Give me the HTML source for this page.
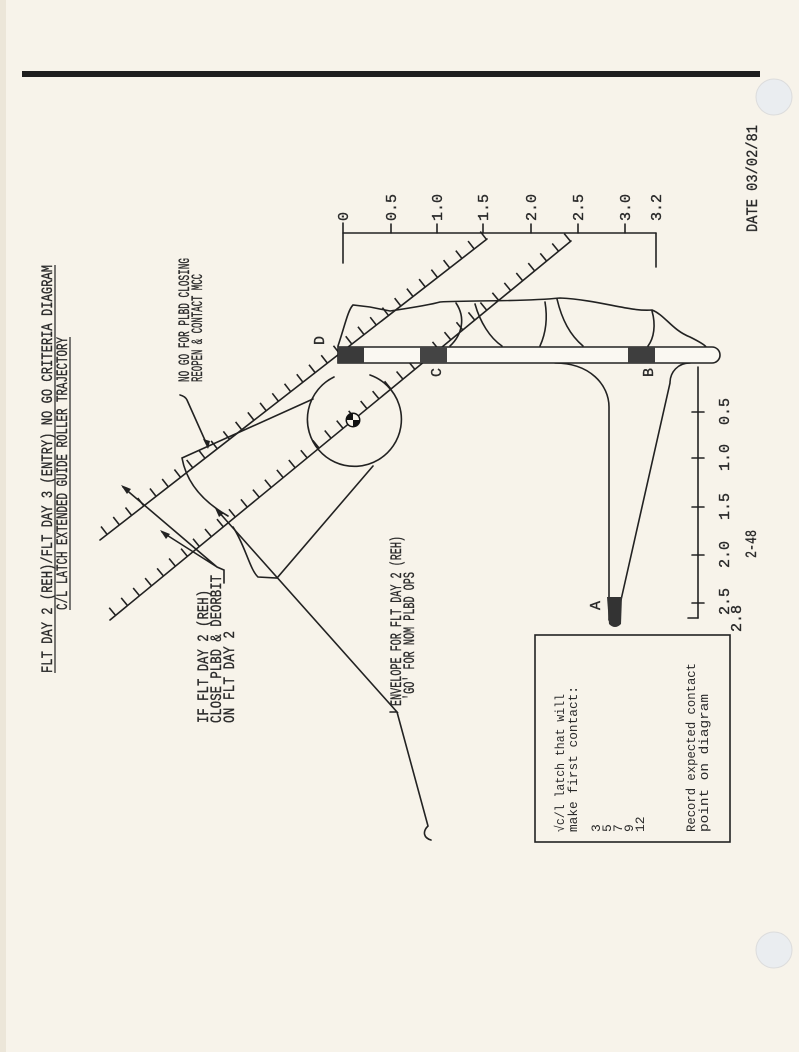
<!DOCTYPE html>
<html><head><meta charset="utf-8"><style>
html,body{margin:0;padding:0;background:#f7f3ea;}
svg{display:block;}
text{font-family:"Liberation Mono","DejaVu Sans Mono",monospace;fill:#2a2a2a;}
.b{stroke:#2a2a2a;stroke-width:0.35;}
</style></head><body>
<svg width="799" height="1052" viewBox="0 0 799 1052" xmlns="http://www.w3.org/2000/svg">
<rect width="799" height="1052" fill="#f7f3ea"/>
<rect x="0" y="0" width="6" height="1052" fill="#ece6d9"/>
<rect x="22" y="71" width="738" height="6" fill="#1e1e1e"/>
<circle cx="774" cy="97" r="18" fill="#eaedf0" stroke="#dcdcdc"/>
<circle cx="774" cy="950" r="18" fill="#eaedf0" stroke="#dcdcdc"/>

<g stroke="#222" stroke-width="1.6" fill="none" stroke-linecap="round">
<line x1="343" y1="233" x2="656" y2="233"/>
<line x1="343" y1="223" x2="343" y2="263"/>
<line x1="656" y1="233" x2="656" y2="267"/>
<line x1="391" y1="224" x2="391" y2="233"/><line x1="437" y1="224" x2="437" y2="233"/>
<line x1="483" y1="224" x2="483" y2="233"/><line x1="531" y1="224" x2="531" y2="233"/>
<line x1="578" y1="224" x2="578" y2="233"/><line x1="625" y1="224" x2="625" y2="233"/>
<line x1="487" y1="239" x2="100" y2="540"/>
<line x1="571" y1="241" x2="110" y2="620"/>
<line x1="698" y1="367" x2="698" y2="618"/>
<line x1="688" y1="618" x2="698" y2="618"/>
<line x1="692" y1="412" x2="704" y2="412"/><line x1="692" y1="458" x2="704" y2="458"/>
<line x1="692" y1="507" x2="704" y2="507"/><line x1="692" y1="555" x2="704" y2="555"/>
<line x1="692" y1="603" x2="704" y2="603"/>
<path d="M338 346 C345 325 348 310 353 305 L370 307 L390 311 C410 308 430 305 440 302 C470 300 520 302 560 298 C600 300 630 312 652 310 C665 315 672 330 690 337 C700 342 705 345 706 347"/>
<path d="M456 303 C466 318 462 335 450 346"/>
<path d="M475 304 C480 322 490 338 502 346"/>
<path d="M545 302 C548 320 545 335 540 346"/>
<path d="M557 299 C562 320 570 335 583 346"/>
<path d="M652 311 C656 325 654 338 648 346"/>
<path d="M555 363 C590 363 609 385 609 407 L609 620"/>
<path d="M690 363 C678 363 670 372 670 383 L621 600"/>
<path d="M370 375 A47 47 0 1 1 334 377" />
<path d="M313 399 L182 458 C186 480 200 500 228 516"/>
<path d="M233 527 C245 545 250 570 258 577 L277 578 L373 466"/>
<path d="M180 395 C184 396 186 398 187 400 L208 447"/>
<path d="M224 583 L224 570 L217 567 L123 487 M217 567 L162 532"/>
<path d="M390 712 L397 712 L217 510 M397 712 L428 826 C422 832 424 838 431 840"/>
</g>
<g stroke="#222" stroke-width="10" fill="none" stroke-dasharray="1.6 13.9">
<line x1="484" y1="235" x2="97" y2="536"/>
<line x1="568" y1="237" x2="107" y2="616"/>
</g>
<g fill="#222">
<path d="M208 449 L203 439 L210 441 Z"/>
<path d="M121 485 L131 489 L127 494 Z"/>
<path d="M160 530 L170 534 L166 539 Z"/>
<path d="M215 508 L224 513 L219 517 Z"/>
</g>
<path d="M338 347 L712 347 A8 8 0 0 1 712 363 L338 363 Z" fill="#faf8f2" stroke="#222" stroke-width="1.6"/>
<rect x="338" y="347" width="26" height="16" fill="#3a3a3a"/>
<rect x="420" y="347" width="27" height="16" fill="#444"/>
<rect x="628" y="347" width="27" height="16" fill="#3e3e3e"/>
<path d="M607 597 L622 597 L621 624 Q615 630 609 624 Z" fill="#333"/>
<circle cx="353" cy="420" r="7.5" fill="#111"/>
<path d="M353 414 A6 6 0 0 1 359 420 L353 420 Z M353 426 A6 6 0 0 1 347 420 L353 420 Z" fill="#f7f3ea"/>

<g font-size="15" class="b">
<text transform="translate(348,221) rotate(-90)">0</text>
<text transform="translate(396,221) rotate(-90)">0.5</text>
<text transform="translate(442,221) rotate(-90)">1.0</text>
<text transform="translate(488,221) rotate(-90)">1.5</text>
<text transform="translate(536,221) rotate(-90)">2.0</text>
<text transform="translate(583,221) rotate(-90)">2.5</text>
<text transform="translate(630,221) rotate(-90)">3.0</text>
<text transform="translate(661,221) rotate(-90)">3.2</text>
<text transform="translate(729,425) rotate(-90)">0.5</text>
<text transform="translate(729,471) rotate(-90)">1.0</text>
<text transform="translate(729,520) rotate(-90)">1.5</text>
<text transform="translate(729,568) rotate(-90)">2.0</text>
<text transform="translate(729,615) rotate(-90)">2.5</text>
<text transform="translate(741,632) rotate(-90)">2.8</text>
<text transform="translate(324,345) rotate(-90)">D</text>
<text transform="translate(441,377) rotate(-90)">C</text>
<text transform="translate(653,377) rotate(-90)">B</text>
<text transform="translate(600,610) rotate(-90)">A</text>
</g>

<g font-size="16" class="b">
<text transform="translate(52,673) rotate(-90)" textLength="408" lengthAdjust="spacingAndGlyphs">FLT DAY 2 (REH)/FLT DAY 3 (ENTRY) NO GO CRITERIA DIAGRAM</text>
<text transform="translate(67,610) rotate(-90)" textLength="273" lengthAdjust="spacingAndGlyphs">C/L LATCH EXTENDED GUIDE ROLLER TRAJECTORY</text>
</g>
<line x1="55" y1="673" x2="55" y2="265" stroke="#333" stroke-width="1.3"/>
<line x1="70" y1="610" x2="70" y2="337" stroke="#333" stroke-width="1.3"/>

<g font-size="16" class="b">
<text transform="translate(189,382) rotate(-90)" textLength="124" lengthAdjust="spacingAndGlyphs">NO GO FOR PLBD CLOSING</text>
<text transform="translate(202,382) rotate(-90)" textLength="108" lengthAdjust="spacingAndGlyphs">REOPEN &amp; CONTACT MCC</text>
<text transform="translate(208,723) rotate(-90)" textLength="133" lengthAdjust="spacingAndGlyphs">IF FLT DAY 2 (REH)</text>
<text transform="translate(221,723) rotate(-90)" textLength="148" lengthAdjust="spacingAndGlyphs">CLOSE PLBD &amp; DEORBIT</text>
<text transform="translate(234,723) rotate(-90)" textLength="92" lengthAdjust="spacingAndGlyphs">ON FLT DAY 2</text>
<text transform="translate(401,706) rotate(-90)" textLength="170" lengthAdjust="spacingAndGlyphs">ENVELOPE FOR FLT DAY 2 (REH)</text>
<text transform="translate(414,700) rotate(-90)" textLength="128" lengthAdjust="spacingAndGlyphs">'GO' FOR NOM PLBD OPS</text>
<text transform="translate(757,232) rotate(-90)" textLength="107" lengthAdjust="spacingAndGlyphs">DATE 03/02/81</text>
<text transform="translate(756,558) rotate(-90)" textLength="28" lengthAdjust="spacingAndGlyphs">2-48</text>
</g>

<rect x="535" y="635" width="195" height="207" fill="none" stroke="#222" stroke-width="1.6"/>
<g font-size="13">
<text transform="translate(564,832) rotate(-90)" textLength="138" lengthAdjust="spacingAndGlyphs">√c/l latch that will</text>
<text transform="translate(577,832) rotate(-90)" textLength="146" lengthAdjust="spacingAndGlyphs">make first contact:</text>
<text transform="translate(600,832) rotate(-90)">3</text>
<text transform="translate(611,832) rotate(-90)">5</text>
<text transform="translate(622,832) rotate(-90)">7</text>
<text transform="translate(633,832) rotate(-90)">9</text>
<text transform="translate(644,832) rotate(-90)">12</text>
<text transform="translate(695,832) rotate(-90)" textLength="169" lengthAdjust="spacingAndGlyphs">Record expected contact</text>
<text transform="translate(708,832) rotate(-90)" textLength="138" lengthAdjust="spacingAndGlyphs">point on diagram</text>
</g>
</svg>
</body></html>
